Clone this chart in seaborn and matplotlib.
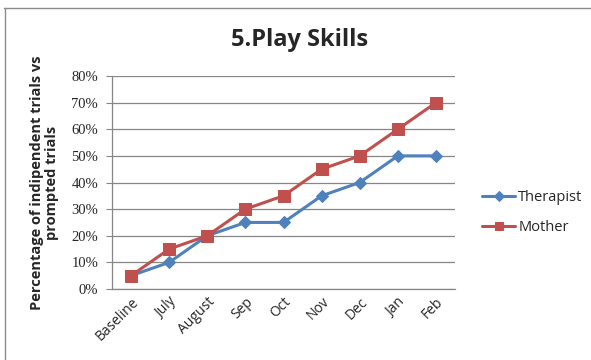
import matplotlib
matplotlib.use("Agg")
import matplotlib.pyplot as plt
import seaborn as sns
import pandas as pd
from matplotlib.lines import Line2D
from matplotlib.ticker import PercentFormatter

months = ["Baseline", "July", "August", "Sep", "Oct", "Nov", "Dec", "Jan", "Feb"]
therapist = [5, 10, 20, 25, 25, 35, 40, 50, 50]
mother = [5, 15, 20, 30, 35, 45, 50, 60, 70]
series_names = ["Therapist", "Mother"]
yticks = [0, 10, 20, 30, 40, 50, 60, 70, 80]

df = pd.DataFrame({
    "month": months * 2,
    "pos": list(range(len(months))) * 2,
    "value": therapist + mother,
    "who": [series_names[0]] * len(months) + [series_names[1]] * len(months),
})

sns.set_style("white")
plt.rcParams["font.family"] = ["Open Sans", "DejaVu Sans"]

fig = plt.figure(figsize=(5.91, 3.6), dpi=100)
ax = fig.add_axes([112 / 591, 1 - 289 / 360, (455 - 112) / 591, (289 - 76) / 360])

# chart frame edges (top and left)
fig.lines.append(Line2D([4 / 591, 1.0], [1 - 7.5 / 360] * 2, transform=fig.transFigure,
                        color="#8c8c8c", linewidth=1.0))
fig.lines.append(Line2D([4.5 / 591] * 2, [0.0, 1 - 7.5 / 360], transform=fig.transFigure,
                        color="#8c8c8c", linewidth=1.0))

palette = {"Therapist": "#4F81BD", "Mother": "#C0504D"}
markers = {"Therapist": "D", "Mother": "s"}
sizes = {"Therapist": 6.5, "Mother": 8}
for name in series_names:
    sub = df[df["who"] == name]
    sns.lineplot(data=sub, x="pos", y="value", ax=ax, color=palette[name],
                 marker=markers[name], markersize=sizes[name],
                 markeredgecolor=palette[name], linewidth=2.2, label=name)

ax.set_xlim(-0.5, len(months) - 0.5)
ax.set_ylim(0, 80)
ax.set_yticks(yticks)
ax.yaxis.set_major_formatter(PercentFormatter(decimals=0))
ax.set_xticks(range(len(months)))
ax.set_xticklabels(months, rotation=45, ha="right", rotation_mode="anchor",
                   fontsize=10, family=["Open Sans", "DejaVu Sans"])
for lab in ax.get_yticklabels():
    lab.set_family(["Liberation Serif", "DejaVu Serif"])
    lab.set_fontsize(10.5)
ax.grid(axis="y", color="#868686", linewidth=0.9)
ax.set_axisbelow(True)
for s in ["top", "right"]:
    ax.spines[s].set_visible(False)
for s in ["left", "bottom"]:
    ax.spines[s].set_color("#868686")
    ax.spines[s].set_linewidth(0.9)
ax.tick_params(axis="y", which="major", left=True, length=4, color="#868686", pad=6)
ax.tick_params(axis="x", length=0, pad=4)
ax.set_xlabel("")
ax.set_ylabel("Percentage of indipendent trials vs\nprompted trials",
              fontsize=10.5, fontweight="bold", labelpad=9, linespacing=1.05)

fig.text(300 / 591, 1 - 40 / 360, "5.Play Skills", ha="center", va="center",
         fontsize=17, fontweight="bold")

leg = ax.legend(loc="center left", bbox_to_anchor=(1.04, 0.36), frameon=False,
                fontsize=10.5, handlelength=2.3, handletextpad=0.2, labelspacing=1.0,
                markerscale=0.8)

fig.savefig("out.png", dpi=100)
